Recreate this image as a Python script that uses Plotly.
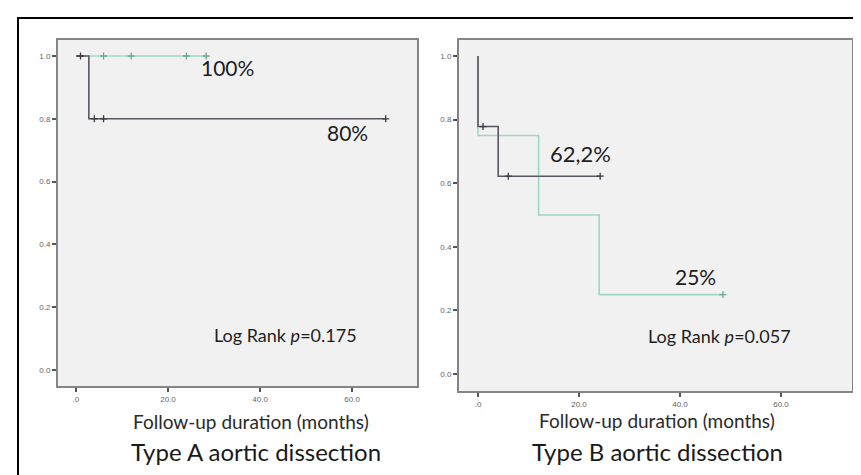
import plotly.graph_objects as go

W, H = 861, 475

# ---- Data (Kaplan-Meier step curves) ----
# Type A aortic dissection
a_dark_t = [0, 2.8, 67.3]
a_dark_s = [1.0, 0.8, 0.8]
a_dark_cens = [1.0, 4.0, 6.0, 67.3]
a_green_t = [0, 28.3]
a_green_s = [1.0, 1.0]
a_green_cens = [6.0, 12.0, 24.0, 28.3]

# Type B aortic dissection
b_dark_t = [0, 0, 4.0, 24.2]
b_dark_s = [1.0, 0.778, 0.622, 0.622]
b_dark_cens = [1.0, 6.0, 24.2]
b_green_t = [0, 0, 12.0, 24.0, 48.5]
b_green_s = [1.0, 0.75, 0.5, 0.25, 0.25]
b_green_cens = [48.5]

x_tickvals = [0, 20, 40, 60]
x_ticktext = [".0", "20.0", "40.0", "60.0"]
y_tickvals = [0.0, 0.2, 0.4, 0.6, 0.8, 1.0]
y_ticktext = ["0.0", "0.2", "0.4", "0.6", "0.8", "1.0"]

DARK = "#5b5560"
GREEN = "#9fd8c2"


def step_at(ts, ss, t):
    val = ss[0]
    for ti, si in zip(ts, ss):
        if ti <= t:
            val = si
    return val


fig = go.Figure()


def add_curve(ts, ss, cens, color, mcolor, xa, ya):
    fig.add_trace(go.Scatter(x=ts, y=ss, mode="lines", line=dict(color=color, width=1.6, shape="hv"),
                             xaxis=xa, yaxis=ya, showlegend=False, hoverinfo="skip"))
    fig.add_trace(go.Scatter(x=cens, y=[step_at(ts, ss, c) for c in cens], mode="markers",
                             marker=dict(symbol="cross-thin-open", size=5, color=mcolor,
                                         line=dict(color=mcolor, width=1.3)),
                             xaxis=xa, yaxis=ya, showlegend=False, hoverinfo="skip"))


add_curve(a_green_t, a_green_s, a_green_cens, GREEN, "#6fa892", "x", "y")
add_curve(a_dark_t, a_dark_s, a_dark_cens, DARK, "#3f3a44", "x", "y")
add_curve(b_green_t, b_green_s, b_green_cens, GREEN, "#6fa892", "x2", "y2")
add_curve(b_dark_t, b_dark_s, b_dark_cens, DARK, "#3f3a44", "x2", "y2")

axis_common = dict(showgrid=False, zeroline=False, showline=True, mirror=True,
                   linecolor="#858585", linewidth=2, ticks="outside", ticklen=4,
                   tickcolor="#555555", tickwidth=1.5,
                   tickfont=dict(size=8, color="#666666", family="Liberation Sans"))

fig.update_layout(
    width=W, height=H, autosize=False,
    margin=dict(l=0, r=0, t=0, b=0),
    paper_bgcolor="white", plot_bgcolor="#f1f1f1",
    xaxis=dict(domain=[50 / W, 409 / W], range=[-3.9, 74.1], anchor="y",
               tickvals=x_tickvals, ticktext=x_ticktext, **axis_common),
    yaxis=dict(domain=[1 - 378 / H, 1 - 32 / H], range=[-0.051, 1.051], anchor="x",
               tickvals=y_tickvals, ticktext=y_ticktext, **axis_common),
    xaxis2=dict(domain=[451 / W, 844 / W], range=[-3.76, 74.06], anchor="y2",
                tickvals=x_tickvals, ticktext=x_ticktext, **axis_common),
    yaxis2=dict(domain=[1 - 383 / H, 1 - 32 / H], range=[-0.053, 1.05], anchor="x2",
                tickvals=y_tickvals, ticktext=y_ticktext, **axis_common),
)

FONT = "Lato"


def ann(px, py, text, size, color="#1e1e1e"):
    fig.add_annotation(x=px / W, y=1 - py / H, xref="paper", yref="paper", text=text,
                       showarrow=False, xanchor="center", yanchor="middle",
                       font=dict(family=FONT, size=size, color=color))


ann(219, 60, "100%", 21)
ann(339, 124, "80%", 21)
ann(277, 327, "Log Rank <i>p</i>=0.175", 18)
ann(243, 413, "Follow-up duration (months)", 19, "#2a2a2a")
ann(248, 443, "Type A aortic dissection", 24, "#1a1a1a")

ann(572, 146, "62,2%", 22)
ann(687, 268, "25%", 21)
ann(711, 328, "Log Rank <i>p</i>=0.057", 18)
ann(649, 412, "Follow-up duration (months)", 19, "#2a2a2a")
ann(649, 443, "Type B aortic dissection", 24, "#1a1a1a")

# outer frame
fig.add_shape(type="rect", xref="paper", yref="paper",
              x0=10 / W, x1=1.02, y0=-0.05, y1=1 - 10 / H,
              line=dict(color="black", width=2), fillcolor="rgba(0,0,0,0)", layer="above")

fig.write_html("out.html")
